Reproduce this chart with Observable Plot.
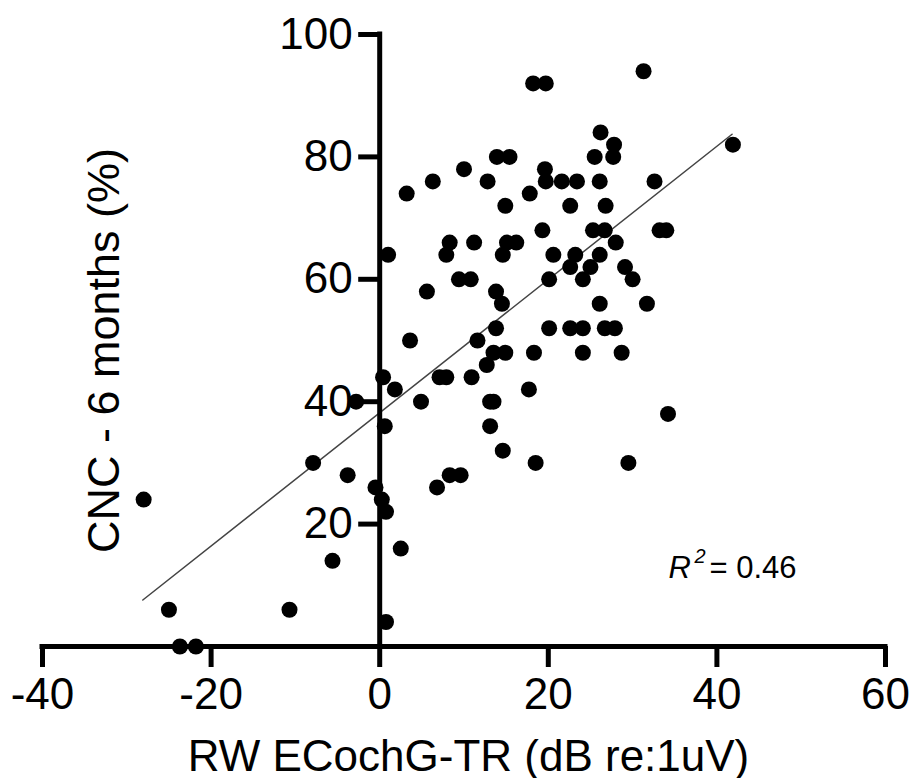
<!DOCTYPE html>
<html><head><meta charset="utf-8">
<script src="https://cdn.jsdelivr.net/npm/d3@7"></script>
<script src="https://cdn.jsdelivr.net/npm/@observablehq/plot@0.6"></script>
<style>body{margin:0;background:#fff}</style>
</head><body><div id="chart"></div>
<script>
// RW ECochG-TR (dB re:1uV) and CNC at 6 months (%), one entry per subject
const xs = [31.3, 18.2, 19.7, 26.2, 27.8, 41.9, 13.9, 15.4, 25.5, 27.7,
  10.0, 19.6, 6.3, 12.8, 19.7, 21.6, 23.4, 26.1, 32.6, 3.2, 17.8,
  14.9, 22.6, 26.8, 19.3, 25.3, 26.7, 33.2, 34.0,
  8.3, 11.2, 15.1, 16.2, 28.0, 1.0, 7.9, 14.6, 20.6, 23.2, 26.1,
  22.6, 25.0, 29.1, 9.4, 10.8, 20.1, 24.1, 30.0, 5.6, 13.8,
  14.5, 26.1, 31.7, 13.8, 20.1, 22.6, 24.1, 26.7, 27.9, 3.6, 11.6,
  13.5, 14.9, 18.3, 24.1, 28.7, 12.7, 0.4, 7.1, 7.9, 10.9, 1.8, 17.7,
  -2.8, 4.9, 13.1, 13.5, 34.2, 0.6, 13.1, 14.6, -7.9, 18.5, 29.5,
  -3.8, 8.3, 9.6, -0.5, 6.8, -28.0, 0.25, 0.75, 2.5, -5.6, -25.0, -10.7,
  0.75, -23.7, -21.8];
const ys = [94, 92, 92, 84, 82, 82, 80, 80, 80, 80,
  78, 78, 76, 76, 76, 76, 76, 76, 76, 74, 74,
  72, 72, 72, 68, 68, 68, 68, 68,
  66, 66, 66, 66, 66, 64, 64, 64, 64, 64, 64,
  62, 62, 62, 60, 60, 60, 60, 60, 58, 58,
  56, 56, 56, 52, 52, 52, 52, 52, 52, 50, 50,
  48, 48, 48, 48, 48, 46, 44, 44, 44, 44, 42, 42,
  40, 40, 40, 40, 38, 36, 36, 32, 30, 30, 30,
  28, 28, 28, 26, 26, 24, 24, 22, 16, 14, 6, 6,
  4, 0, 0];
const xTicks = [-40, -20, 0, 20, 40, 60];
const yTicks = [0, 20, 40, 60, 80, 100];
// fitted regression line, end points
const fitX = [-28.1, 41.8];
const fitY = [7.6, 83.7];
const r2Value = "0.46";
const xTitle = "RW ECochG-TR (dB re:1uV)";
const yTitle = "CNC - 6 months (%)";

(function () {
  const data = xs.map((x, i) => ({x, y: ys[i]}));
  const fit = fitX.map((x, i) => ({x, y: fitY[i]}));

  const pxL = 42, pxR = 885, pxT = 34, pxB = 646;
  const zeroX = pxL + (0 - xTicks[0]) / (xTicks[xTicks.length - 1] - xTicks[0]) * (pxR - pxL);
  const font = "'Liberation Sans', Arial, Helvetica, sans-serif";

  const chart = Plot.plot({
    width: 913, height: 778,
    marginLeft: zeroX, marginRight: 913 - pxR, marginTop: pxT, marginBottom: 778 - pxB,
    x: {domain: [xTicks[0], xTicks[xTicks.length - 1]], range: [pxL, pxR]},
    y: {domain: [yTicks[0], yTicks[yTicks.length - 1]], range: [pxB, pxT]},
    style: {fontFamily: font, fontSize: "44px", color: "#000", background: "#fff"},
    marks: [
      Plot.line(fit, {x: "x", y: "y", stroke: "#444", strokeWidth: 1.5}),
      Plot.dot(data, {x: "x", y: "y", r: 8, fill: "#000"}),
      Plot.ruleY([0], {x1: xTicks[0], x2: xTicks[xTicks.length - 1], stroke: "#000", strokeWidth: 5, strokeLinecap: "square"}),
      Plot.ruleX([0], {y1: yTicks[0], y2: yTicks[yTicks.length - 1], stroke: "#000", strokeWidth: 5, strokeLinecap: "square"}),
      Plot.axisX({anchor: "bottom", ticks: xTicks, tickSize: 21, tickPadding: 10, strokeWidth: 5, label: null, fontSize: 44, tickFormat: d => String(d)}),
      Plot.axisY({anchor: "left", ticks: yTicks, tickSize: 21, tickPadding: 6, strokeWidth: 5, label: null, fontSize: 44, tickFormat: d => d === 0 ? "" : String(d)}),
      Plot.text([xTitle], {frameAnchor: "bottom", dx: 468 - (zeroX + pxR) / 2, dy: 124, lineAnchor: "bottom", textAnchor: "middle", fontSize: 44}),
      Plot.text([yTitle], {frameAnchor: "left", rotate: -90, dx: 118 - zeroX, dy: 10, lineAnchor: "bottom", textAnchor: "middle", fontSize: 45}),
      Plot.text(["R"], {frameAnchor: "top-left", dx: 668 - zeroX, dy: 577 - pxT, textAnchor: "start", lineAnchor: "bottom", fontSize: 31, fontStyle: "italic"}),
      Plot.text(["2"], {frameAnchor: "top-left", dx: 694 - zeroX, dy: 562 - pxT, textAnchor: "start", lineAnchor: "bottom", fontSize: 20, fontStyle: "italic"}),
      Plot.text(["= " + r2Value], {frameAnchor: "top-left", dx: 709 - zeroX, dy: 577 - pxT, textAnchor: "start", lineAnchor: "bottom", fontSize: 31})
    ]
  });
  document.getElementById("chart").appendChild(chart);
})();
</script>
</body></html>
